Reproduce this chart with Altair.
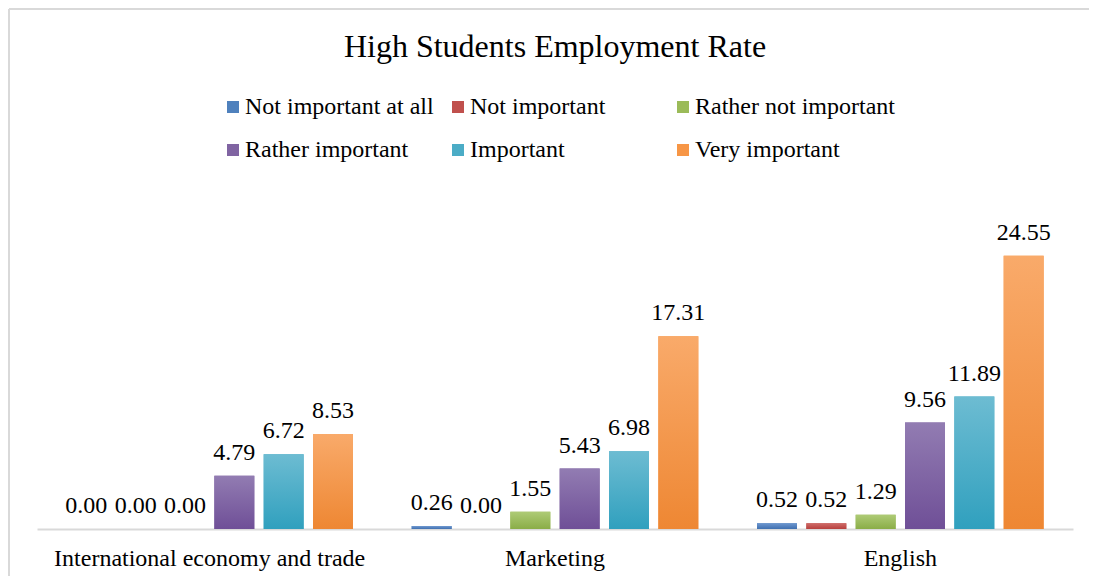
import altair as alt
import pandas as pd

categories = ["International economy and trade", "Marketing", "English"]
series = ["Not important at all", "Not important", "Rather not important",
          "Rather important", "Important", "Very important"]
values_iet = [0.00, 0.00, 0.00, 4.79, 6.72, 8.53]
values_marketing = [0.26, 0.00, 1.55, 5.43, 6.98, 17.31]
values_english = [0.52, 0.52, 1.29, 9.56, 11.89, 24.55]

solid_colors = ["#4F81BD", "#C0504D", "#9BBB59", "#8064A2", "#4BACC6", "#F79646"]
grad_top = ["#6E97CF", "#CF6C69", "#AECB76", "#927CB2", "#6DBCD2", "#F9AA6A"]
grad_bottom = ["#3F70B0", "#B7403D", "#8AAD47", "#6F4F97", "#30A0BE", "#EE8733"]

rows = []
for cat, vals in zip(categories, [values_iet, values_marketing, values_english]):
    for s, v in zip(series, vals):
        rows.append({"category": cat, "series": s, "value": v})
df = pd.DataFrame(rows)

FONT = "Liberation Serif"

x_enc = alt.X("category:N", sort=categories,
              scale=alt.Scale(paddingInner=0, paddingOuter=0),
              axis=alt.Axis(title=None, labelAngle=0, labelFontSize=24, labelFont=FONT,
                            labelColor="#000000", ticks=False, tickSize=0,
                            labelBaseline="alphabetic", labelPadding=36, labelLimit=600,
                            domainColor="#D9D9D9", domainWidth=2, grid=False))
xo_enc = alt.XOffset("series:N", sort=series,
                     scale=alt.Scale(domain=series, paddingInner=0.19, paddingOuter=0.595))
y_enc = alt.Y("value:Q", scale=alt.Scale(domain=[0, 30]), axis=None)

def grad(top, bottom):
    return {"gradient": "linear", "x1": 0, "x2": 0, "y1": 0, "y2": 1,
            "stops": [{"offset": 0, "color": top}, {"offset": 1, "color": bottom}]}

base = alt.Chart(df)

legend_bars = base.mark_bar().encode(
    x=x_enc, xOffset=xo_enc, y=y_enc,
    color=alt.Color("series:N", sort=series,
                    scale=alt.Scale(domain=series, range=solid_colors),
                    legend=alt.Legend(title=None, orient="none", legendX=184, legendY=-100,
                                      columns=3, direction="horizontal", gridAlign="all",
                                      symbolType="square", symbolSize=144,
                                      symbolStrokeWidth=0, labelFontSize=24,
                                      labelFont=FONT, labelColor="#000000",
                                      labelOffset=0, columnPadding=1, rowPadding=19,
                                      padding=0, labelLimit=400)),
)

fill_def = {
    "condition": [
        {"test": f"datum.series === '{s}'", "value": grad(t, b)}
        for s, t, b in zip(series[:-1], grad_top[:-1], grad_bottom[:-1])
    ],
    "value": grad(grad_top[-1], grad_bottom[-1]),
}
grad_bars = base.mark_bar().encode(x=x_enc, xOffset=xo_enc, y=y_enc, fill=fill_def)

labels = base.mark_text(baseline="alphabetic", dy=-16, fontSize=24, font=FONT,
                        color="#000000").encode(
    x=x_enc, xOffset=xo_enc, y=y_enc, text=alt.Text("value:Q", format=".2f"))

frame_data = alt.Data(values=[{"k": 1}])
frame_left = alt.Chart(frame_data).mark_rule(color="#D9D9D9", strokeWidth=2).encode(
    x=alt.value(-28), y=alt.value(-186), y2=alt.value(381))
frame_top = alt.Chart(frame_data).mark_rule(color="#D9D9D9", strokeWidth=2).encode(
    x=alt.value(-28), x2=alt.value(1052), y=alt.value(-186))

chart = alt.layer(frame_left, frame_top, legend_bars, grad_bars, labels).properties(
    width=1036, height=334,
    padding=0,
    background="#FFFFFF",
    title=alt.TitleParams("High Students Employment Rate", fontSize=32, font=FONT,
                          fontWeight="normal", color="#000000", anchor="middle",
                          offset=-56),
).configure_view(strokeWidth=0, stroke="transparent")

chart.save("out.html", embed_options={"renderer": "svg", "actions": False})
